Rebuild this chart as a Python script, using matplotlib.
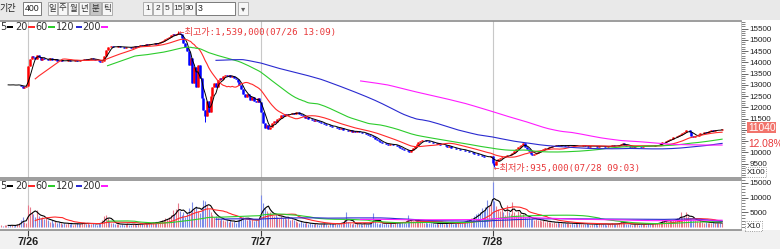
import matplotlib as mpl
mpl.use('Agg')
import matplotlib.pyplot as plt
import matplotlib.patches as patches
from matplotlib.ticker import MultipleLocator
import numpy as np
import pandas as pd

plt.rcParams['font.family'] = ['Liberation Sans', 'Noto Sans CJK KR']

# 3 minute candles, closes in chart units (x100)
close_0725 = [13010, 12990, 13000, 13020, 13000, 12990, 13010, 13000, 12980, 13000,
              13020, 12950, 12880, 12900, 12970]
close_0726 = [13850, 14150, 14300, 14250, 14150, 14350, 14250, 14100, 14200, 14150,
              14150, 14100, 14180, 14120, 14100, 14150, 14080, 14060, 14100, 14080,
              14050, 14080, 14100, 14060, 14050, 14080, 14100, 14070, 14060, 14090,
              14110, 14150, 14120, 14160, 14140, 14180, 14150, 14130, 14100, 14060,
              14030, 14080, 14300, 14550, 14700, 14680, 14720, 14700, 14680, 14700,
              14720, 14700, 14680, 14650, 14670, 14700, 14680, 14660, 14690, 14720,
              14700, 14740, 14760, 14730, 14770, 14800, 14780, 14820, 14800, 14840,
              14860, 14830, 14880, 14900, 14950, 15000, 15050, 15100, 15150, 15200,
              15250, 15220, 15280, 15300, 15250, 15100, 14850, 14700, 14500, 13900,
              14200, 13100, 13800, 12900, 13900, 13300, 12400, 11900, 11600, 12300,
              11800, 12500, 12900, 13100, 12900, 13200, 13300, 13250, 13400, 13450,
              13380, 13420, 13350, 13400, 13300, 13250, 13150, 13000, 12800, 12600,
              12450, 12600, 12500, 12350, 12450, 12300, 12250, 12400, 12250]
close_0727 = [11800, 11300, 11100, 11200, 11050, 11150, 11300, 11400, 11350, 11500,
              11550, 11650, 11600, 11700, 11680, 11720, 11700, 11750, 11720, 11780,
              11800, 11700, 11650, 11600, 11550, 11580, 11500, 11480, 11450, 11420,
              11450, 11380, 11350, 11300, 11320, 11250, 11200, 11230, 11180, 11150,
              11120, 11150, 11100, 11050, 11080, 11000, 11020, 10980, 10950, 10980,
              10920, 10950, 10900, 10940, 10920, 10900, 10850, 10880, 10800, 10780,
              10750, 10720, 10680, 10620, 10560, 10500, 10450, 10420, 10400, 10380,
              10350, 10380, 10360, 10330, 10350, 10300, 10250, 10200, 10150, 10120,
              10100, 10060, 10030, 10100, 10200, 10300, 10380, 10450, 10500, 10550,
              10550, 10520, 10500, 10480, 10450, 10420, 10400, 10380, 10400, 10350,
              10330, 10350, 10300, 10260, 10280, 10220, 10200, 10180, 10150, 10170,
              10120, 10100, 10130, 10080, 10050, 10000, 10020, 9980, 9950, 9920,
              9900, 9880, 9850, 9820, 9800, 9780, 9800, 9850]
close_0728 = [9550, 9450, 9600, 9700, 9750, 9800, 9780, 9850, 9900, 9880,
              9920, 9960, 10050, 10150, 10250, 10300, 10350, 10400, 10250, 10150,
              10050, 9950, 9900, 9950, 9980, 10020, 10080, 10100, 10150, 10180,
              10220, 10250, 10260, 10280, 10300, 10320, 10280, 10300, 10330, 10310,
              10290, 10300, 10320, 10340, 10310, 10290, 10280, 10300, 10270, 10290,
              10310, 10300, 10280, 10260, 10280, 10300, 10290, 10270, 10250, 10270,
              10290, 10280, 10260, 10250, 10270, 10290, 10310, 10300, 10280, 10300,
              10320, 10380, 10400, 10350, 10300, 10280, 10260, 10270, 10250, 10270,
              10290, 10280, 10260, 10270, 10290, 10300, 10280, 10270, 10290, 10300,
              10310, 10320, 10350, 10400, 10450, 10480, 10520, 10550, 10580, 10620,
              10680, 10700, 10720, 10780, 10800, 10850, 10920, 10980, 11000, 10900,
              10750, 10700, 10720, 10750, 10800, 10850, 10870, 10900, 10880, 10920,
              10950, 10980, 10950, 11000, 10980, 11020, 11000, 11040]

# volume (x10)
vol_0725 = [600, 400, 500, 800, 300, 500, 700, 400, 600, 900, 1200, 2500, 3400, 1800, 1500]
vol_0726 = [7400, 6800, 5200, 4300, 3500, 5600, 3800, 2900, 3300, 2600,
            3000, 2200, 1800, 2400, 1500, 1900, 1200, 1600, 1400, 1100,
            1300, 1000, 1500, 900, 1200, 800, 1100, 1400, 900, 1000,
            1200, 1500, 1000, 1300, 900, 1100, 1400, 1000, 800, 1200,
            1500, 2200, 3800, 4200, 3000, 2000, 1500, 1200, 1000, 900,
            1100, 800, 1000, 700, 900, 1200, 800, 700, 1000, 900,
            800, 1100, 900, 1200, 1000, 1300, 900, 1500, 1200, 1600,
            1400, 1800, 1500, 2000, 2500, 2200, 3000, 2600, 3500, 4000,
            5600, 4500, 6000, 8000, 5500, 4000, 5200, 3500, 4800, 6500,
            5000, 8500, 6000, 7000, 5500, 4800, 6500, 9000, 8800, 7500,
            6000, 5000, 4200, 3500, 3800, 3000, 2500, 2800, 2200, 2000,
            2500, 1800, 2200, 1600, 2000, 1500, 2400, 2800, 3000, 3500,
            2800, 2500, 3000, 2200, 2600, 2000, 2400, 2800, 3000]
vol_0727 = [10800, 8000, 6500, 5500, 4600, 5000, 4200, 3800, 4500, 3500,
            3200, 3800, 3000, 3500, 2800, 3300, 2500, 2800, 2200, 2000,
            1800, 1500, 2000, 1400, 1200, 1600, 1000, 1300, 1100, 900,
            1200, 1000, 800, 1100, 900, 1300, 1000, 800, 1200, 900,
            1000, 1400, 1100, 900, 1300, 1800, 2200, 5100, 1800, 1200,
            1000, 1300, 900, 1200, 1000, 1100, 800, 1300, 1000, 900,
            1200, 1500, 4800, 2200, 1300, 1100, 1500, 1200, 1000, 1300,
            1100, 1400, 1200, 1000, 1300, 1800, 1500, 1200, 1600, 1400,
            1500, 4000, 1800, 2500, 2000, 1800, 2200, 2600, 2000, 1800,
            1500, 1800, 1300, 1500, 1200, 1400, 1100, 1300, 1000, 1200,
            1400, 1100, 1300, 1000, 1500, 1200, 1100, 1400, 1300, 1200,
            1500, 1800, 1600, 2000, 2500, 2200, 3200, 2800, 3600, 4500,
            4600, 5000, 6500, 5500, 6800, 9200, 7000, 8000]
vol_0728 = [15300, 8700, 7000, 6000, 5500, 6500, 5000, 4200, 7500, 5000,
            4500, 8500, 5000, 4200, 5500, 4800, 3800, 4500, 3500, 3000,
            3300, 2800, 3000, 2500, 2800, 2200, 2500, 2000, 2200, 1800,
            2000, 1600, 1800, 1500, 1700, 1400, 1600, 1300, 1500, 1200,
            1400, 1200, 1500, 1100, 1300, 1000, 1200, 1100, 1300, 1000,
            1100, 900, 1200, 1000, 800, 1100, 900, 1000, 800, 1200,
            1000, 900, 1100, 800, 1000, 900, 1200, 1000, 900, 1100,
            1300, 2000, 1600, 1200, 1000, 900, 1100, 800, 1000, 900,
            1000, 800, 1100, 900, 1000, 800, 1200, 1000, 900, 1100,
            1200, 1300, 1500, 1800, 2200, 2000, 2500, 1800, 2200, 2000,
            2500, 2800, 3200, 2600, 5100, 3000, 3500, 5000, 3800, 3000,
            2800, 2500, 2200, 2000, 1800, 2200, 1600, 1500, 1800, 1400,
            1500, 1300, 1600, 1200, 1400, 1500, 1200, 1300]

first_open = 13000
high_marks = {98: 15390}
low_marks = {113: 11370, 273: 9350}
high_time = '07/26 13:09'
low_time = '07/28 09:03'
day_labels = ['7/26', '7/27', '7/28']
ma_periods = [5, 20, 60, 120, 200]
ma_colors = ['#000000', '#ff2a2a', '#2ccc2c', '#2a2ad0', '#ff1cff']
price_ticks = list(range(9500, 16000, 500))
vol_ticks = [5000, 10000, 15000]

close = np.array(close_0725 + close_0726 + close_0727 + close_0728, dtype=float)
vol = np.array(vol_0725 + vol_0726 + vol_0727 + vol_0728, dtype=float)
n = len(close)
idx = np.arange(n)
opn = np.r_[first_open, close[:-1]]
high = np.maximum(opn, close)
low = np.minimum(opn, close)
for k, v in high_marks.items():
    high[k] = v
for k, v in low_marks.items():
    low[k] = v
up = close >= opn
day_starts = np.cumsum([len(close_0725), len(close_0726), len(close_0727)])
last = close[-1]
prev = close[day_starts[-1] - 1]

W, H = 780, 249
fig = plt.figure(figsize=(7.8, 2.49), dpi=100)


def frac(x0, y0, x1, y1):
    return [x0 / W, 1 - y1 / H, (x1 - x0) / W, (y1 - y0) / H]


def overlay(z):
    a = fig.add_axes([0, 0, 1, 1], zorder=z)
    a.set_xlim(0, W)
    a.set_ylim(H, 0)
    a.axis('off')
    return a


bg = overlay(0)
axp = fig.add_axes(frac(0, 21, 741, 177.5), zorder=1)
axv = fig.add_axes(frac(0, 179.5, 741, 229.5), zorder=1)
fg = overlay(3)

# toolbar / bottom strip
bg.add_patch(patches.Rectangle((0, 0), W, 19.5, fc='#e9e9e9', ec='none'))
bg.add_patch(patches.Rectangle((0, 230), W, 19, fc='#f1f1f1', ec='none'))
bg.text(-1, 8.5, '기간', ha='left', va='center', fontsize=6.5, color='#202020')
bg.add_patch(patches.Rectangle((23, 2), 18, 13, fc='white', ec='#7a7a7a', lw=0.7))
bg.text(25, 8.5, '400', ha='left', va='center', fontsize=6.3, color='#202020')
btns = [(48, 57, '일'), (58, 67, '주'), (68, 78, '월'), (79, 89, '년'), (90, 101, '분'), (102, 112, '틱'),
        (143, 152, '1'), (153, 162, '2'), (163, 172, '5'), (173, 183, '15'), (184, 195, '30')]
for x0, x1, t in btns:
    fc = '#c4c4c4' if t == '분' else '#f7f7f7'
    bg.add_patch(patches.Rectangle((x0, 2), x1 - x0, 13, fc=fc, ec='#a4a4a4', lw=0.6))
    bg.text((x0 + x1) / 2, 8.5, t, ha='center', va='center', fontsize=6, color='#303030')
bg.add_patch(patches.Rectangle((196, 2), 39, 13, fc='white', ec='#7a7a7a', lw=0.7))
bg.text(198, 8.5, '3', ha='left', va='center', fontsize=6.3, color='#202020')
bg.add_patch(patches.Rectangle((238, 2), 10, 13, fc='#f7f7f7', ec='#a4a4a4', lw=0.6))
bg.text(243, 9, '▾', ha='center', va='center', fontsize=6, color='#606060', family='DejaVu Sans')

xmax = 741 / 1.8075 - 0.5
for ax in (axp, axv):
    ax.set_xlim(-0.5, xmax)
    ax.set_facecolor('white')
    for d in day_starts:
        ax.axvline(d, color='#c8c8c8', lw=0.8, zorder=0)
    ax.spines['left'].set_visible(False)
    ax.spines['right'].set_color('#c0c0c0')
    ax.spines['right'].set_linewidth(0.6)
    for s in ('top', 'bottom'):
        ax.spines[s].set_color('#8c8c8c')
        ax.spines[s].set_linewidth(1.2)
    ax.yaxis.tick_right()
    ax.tick_params(axis='y', which='major', length=5, width=0.6, color='#505050',
                   labelsize=5.8, pad=1.2, labelcolor='#202020')
    ax.tick_params(axis='y', which='minor', length=3, width=0.5, color='#505050')

# price panel
axp.set_ylim(8887, 15842)
# labels under the current price tag are hidden, as in the chart
plabels = ['' if last - 700 < t < last + 300 else str(t) for t in price_ticks]
axp.set_yticks(price_ticks, labels=plabels)
axp.yaxis.set_minor_locator(MultipleLocator(100))
axp.set_xticks([])
cols = np.where(up, '#ff0000', '#0000ff')
axp.vlines(idx, low, high, colors=cols, lw=0.7, zorder=2)
axp.vlines(idx, np.minimum(opn, close), np.maximum(opn, close), colors=cols, lw=1.8, zorder=2)
for p, c in zip(ma_periods, ma_colors):
    axp.plot(idx, pd.Series(close).rolling(p).mean(), color=c, lw=0.7 if p == 5 else 0.8, zorder=3)

mono = ['DejaVu Sans Mono', 'Noto Sans CJK KR']
imax = int(np.argmax(high))
imin = int(np.argmin(low))
axp.annotate('←최고가:{:,}({})'.format(int(high[imax] * 100), high_time), xy=(imax, high[imax]),
             xytext=(1, -1), textcoords='offset points', ha='left', va='center',
             fontsize=6.6, color='#e8383a', family=mono, zorder=4)
axp.annotate('←최저가:{:,}({})'.format(int(low[imin] * 100), low_time), xy=(imin, low[imin]),
             xytext=(0, -1), textcoords='offset points', ha='left', va='center',
             fontsize=6.6, color='#e8383a', family=mono, zorder=4)

axp.annotate('{:.0f}'.format(last), xy=(1, last), xycoords=('axes fraction', 'data'),
             xytext=(5, 1), textcoords='offset points', ha='left', va='center',
             fontsize=7.4, color='white', annotation_clip=False,
             bbox=dict(boxstyle='square,pad=0.08', fc='#f2746c', ec='none'))
axp.annotate('{:.2f}%'.format((last / prev - 1) * 100), xy=(1, last), xycoords=('axes fraction', 'data'),
             xytext=(5, -10.5), textcoords='offset points', ha='left', va='center',
             fontsize=7.4, color='#e8383a', annotation_clip=False)
axp.text(1.0075, 0.035, 'X100', transform=axp.transAxes, ha='left', va='center', fontsize=5.8,
         color='#202020', bbox=dict(boxstyle='square,pad=0.15', fc='white', ec='#808080', ls=':', lw=0.6))

# volume panel
axv.set_ylim(-875, 16130)
axv.set_yticks(vol_ticks)
axv.yaxis.set_minor_locator(MultipleLocator(1000))
vcols = np.where(up, '#e8788a', '#7c8ce8')
axv.vlines(idx, 0, vol, colors=vcols, lw=0.8, zorder=2)
for p, c in zip(ma_periods, ma_colors):
    axv.plot(idx, pd.Series(vol).rolling(p).mean(), color=c, lw=0.8, zorder=3)
axv.text(1.0075, 0.07, 'X10', transform=axv.transAxes, ha='left', va='center', fontsize=5.8,
         color='#202020', bbox=dict(boxstyle='square,pad=0.15', fc='white', ec='#808080', ls=':', lw=0.6))
axv.set_xticks(day_starts, labels=day_labels)
axv.tick_params(axis='x', length=4, width=0.8, color='#404040', pad=1.5, labelsize=7.8, labelcolor='#202020')
for lb in axv.get_xticklabels():
    lb.set_fontweight('bold')

# MA legends
leg_nums = [('5', 0), ('20', 15), ('60', 35), ('120', 55.5), ('200', 82)]
leg_sw = [6.5, 28, 48, 75.5, 101]
for ly in (27, 186):
    for (t, x), sx, c in zip(leg_nums, leg_sw, ma_colors):
        fg.text(x, ly, t, ha='left', va='center', fontsize=7, color='#303030', family='DejaVu Sans')
        fg.add_patch(patches.Rectangle((sx, ly - 1.3), 6.5, 2.6, fc=c, ec='none'))

fig.savefig('out.png', dpi=100)
